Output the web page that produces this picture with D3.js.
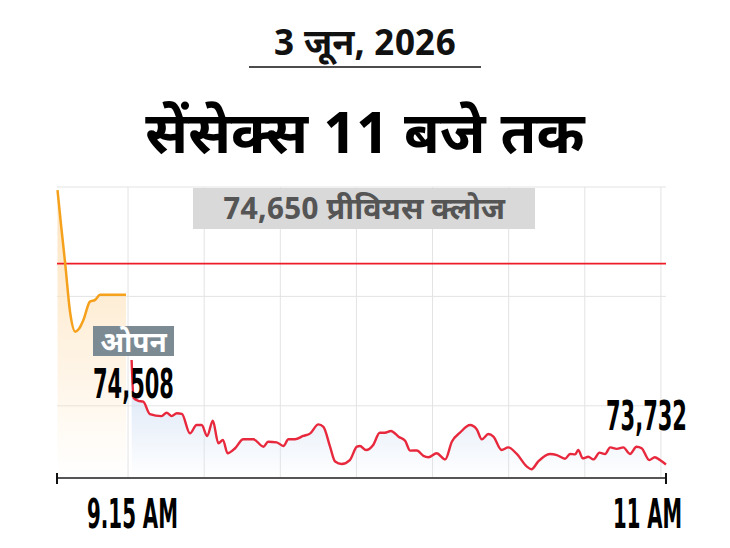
<!DOCTYPE html>
<html>
<head>
<meta charset="utf-8">
<script src="https://cdn.jsdelivr.net/npm/d3@7"></script>
<style>
  html, body { margin: 0; padding: 0; background: #fff; }
  svg { display: block; }
</style>
</head>
<body>
<div id="chart"></div>
<script>
// minutes after 9:00 AM
var preTimes = [1.1, 1.8, 2.6, 3.6, 4.6, 5.3, 6.2, 7.5, 8.5, 9.5, 14.6];
var preValues = [74986, 74826, 74653, 74424, 74339, 74351, 74392, 74476, 74484, 74508, 74508];

var mktTimes = [15.7,16.1,17.0,18.0,19.3,21.6,22.6,23.6,24.6,25.6,
  27.2,28.5,29.5,30.6,31.7,32.8,33.7,34.6,36.1,37.7,
  39.7,41.7,42.6,44.3,45.6,46.6,47.9,49.5,50.9,52.5,
  53.5,54.8,55.8,57.1,58.7,60.1,60.7,61.9,63.3,64.6,
  65.6,66.8,68.3,69.6,70.6,71.9,73.2,74.2,75.8,77.5,
  78.8,80.4,82.4,83.7,84.7,86.0,87.0,88.6,89.9,91.6,
  93.6,94.5,95.8,98.1,99.5,101.1,102.1,103.1,103.7,104.6,
  105.7,106.7,107.9,109.0,110.0,111.3,112.6,113.9,115.2,116.2,
  117.7,118.8,119.8,121.0];
var mktValues = [74209,74036,74023,74019,73962,73953,73968,73953,73966,73963,
  73874,73912,73912,73862,73932,73829,73844,73783,73806,73847,
  73847,73813,73836,73833,73816,73847,73847,73862,73874,73915,
  73904,73813,73745,73734,73752,73813,73816,73798,73821,73877,
  73877,73885,73859,73840,73795,73796,73771,73765,73783,73755,
  73836,73877,73912,73893,73847,73871,73859,73798,73810,73780,
  73722,73710,73745,73780,73775,73758,73780,73778,73798,73760,
  73767,73755,73786,73780,73810,73803,73810,73780,73813,73806,
  73752,73765,73752,73732];

var prevClose = 74650;
var openValue = 74508;
var lastValue = 73732;
var yTicks = [74000, 74500, 75000];
var xTicks = [15, 30, 45, 60, 75, 90, 105, 120];
var xLabels = ["9.15 AM", "11 AM"];
var dateText = "3 जून, 2026";
var titleText = "सेंसेक्स 11 बजे तक";
var prevLabel = "प्रीवियस क्लोज";
var openLabel = "ओपन";

var W = 730, H = 548;
var deva = "'Noto Sans Devanagari', 'Noto Sans', 'Lohit Devanagari', sans-serif";
var narrow = "'Liberation Sans Narrow', 'DejaVu Sans Condensed', 'Roboto', sans-serif";
var fmt = d3.format(",");

var svg = d3.select("#chart").append("svg")
  .attr("width", W).attr("height", H);

var x = d3.scaleLinear().domain([1, 121]).range([57, 666]);
var y = d3.scaleLinear().domain([73670, 75000]).range([478, 187]);

// gradients
var defs = svg.append("defs");
function grad(id, c) {
  var g = defs.append("linearGradient").attr("id", id)
    .attr("x1", 0).attr("y1", 0).attr("x2", 0).attr("y2", 1);
  g.append("stop").attr("offset", "0%").attr("stop-color", c).attr("stop-opacity", 1);
  g.append("stop").attr("offset", "100%").attr("stop-color", c).attr("stop-opacity", 0);
}
grad("gOrange", "#fde3bd");
grad("gBlue", "#d3e1f4");

// titles
svg.append("text").attr("x", 365).attr("y", 55)
  .attr("text-anchor", "middle")
  .style("font-family", deva).style("font-weight", 700).style("font-size", "36px")
  .attr("fill", "#111").text(dateText);
svg.append("line").attr("x1", 249).attr("x2", 481).attr("y1", 67).attr("y2", 67)
  .attr("stroke", "#111").attr("stroke-width", 1.5);
svg.append("text").attr("x", 365).attr("y", 153)
  .attr("text-anchor", "middle")
  .style("font-family", deva).style("font-weight", 700).style("font-size", "58px")
  .attr("fill", "#000").text(titleText);

// grid
var grid = svg.append("g").attr("class", "grid");
grid.selectAll("line.h").data(yTicks).enter().append("line")
  .attr("x1", x(1)).attr("x2", x(121))
  .attr("y1", function(d){ return y(d); }).attr("y2", function(d){ return y(d); })
  .attr("stroke", "#e3e3e3").attr("stroke-width", 1);
grid.selectAll("line.v").data(xTicks).enter().append("line")
  .attr("x1", function(d){ return x(d); }).attr("x2", function(d){ return x(d); })
  .attr("y1", y(75000)).attr("y2", 478)
  .attr("stroke", "#e3e3e3").attr("stroke-width", 1);

// series
var pre = preTimes.map(function(t, i){ return {t: t, v: preValues[i]}; });
var mkt = mktTimes.map(function(t, i){ return {t: t, v: mktValues[i]}; });

var area = d3.area()
  .x(function(d){ return x(d.t); })
  .y0(478)
  .y1(function(d){ return y(d.v); })
  .curve(d3.curveMonotoneX);
var line = d3.line()
  .x(function(d){ return x(d.t); })
  .y(function(d){ return y(d.v); })
  .curve(d3.curveMonotoneX);

svg.append("path").attr("d", area(pre)).attr("fill", "url(#gOrange)");
svg.append("path").attr("d", area(mkt)).attr("fill", "url(#gBlue)");

// previous close
svg.append("line").attr("x1", x(1)).attr("x2", x(121))
  .attr("y1", y(prevClose)).attr("y2", y(prevClose))
  .attr("stroke", "#ee1d25").attr("stroke-width", 1.6);

svg.append("path").attr("d", line(pre))
  .attr("fill", "none").attr("stroke", "#f5a11c").attr("stroke-width", 2.5);
svg.append("path").attr("d", line(mkt))
  .attr("fill", "none").attr("stroke", "#e8283c").attr("stroke-width", 2.4)
  .attr("stroke-linejoin", "round");

// previous close label
svg.append("rect").attr("x", 193).attr("y", 188).attr("width", 342).attr("height", 41)
  .attr("fill", "#d9d9d9");
svg.append("text").attr("x", 364).attr("y", 219)
  .attr("text-anchor", "middle")
  .style("font-family", deva).style("font-weight", 700).style("font-size", "30.5px")
  .attr("fill", "#555").text(fmt(prevClose) + " " + prevLabel);

// open label
svg.append("rect").attr("x", 93).attr("y", 326).attr("width", 81).attr("height", 30)
  .attr("fill", "#7c8b93");
svg.append("text").attr("x", 133.5).attr("y", 352)
  .attr("text-anchor", "middle")
  .style("font-family", deva).style("font-weight", 700).style("font-size", "28px")
  .attr("fill", "#fff").text(openLabel);

// condensed numbers: squeeze to the width seen in the picture
function bigNum(txt, x0, y0, w) {
  var t = svg.append("text").attr("x", 0).attr("y", 0)
    .style("font-family", narrow).style("font-weight", 700).style("font-size", "40px")
    .attr("fill", "#000").text(txt);
  var w0 = t.node().getComputedTextLength() || w;
  t.attr("transform", "translate(" + x0 + "," + y0 + ") scale(" + (w / w0) + ",1)");
}
bigNum(fmt(openValue), 93, 398, 81);
bigNum(fmt(lastValue), 606, 430, 81);

// x axis
var axis = svg.append("g");
axis.append("line").attr("x1", x(1)).attr("x2", x(121)).attr("y1", 478).attr("y2", 478)
  .attr("stroke", "#555").attr("stroke-width", 2);
axis.selectAll("line.tick").data([1, 121]).enter().append("line")
  .attr("x1", function(d){ return x(d); }).attr("x2", function(d){ return x(d); })
  .attr("y1", 473).attr("y2", 484)
  .attr("stroke", "#111").attr("stroke-width", 2);
bigNum(xLabels[0], 87, 528, 91);
bigNum(xLabels[1], 613, 528, 69);
</script>
</body>
</html>
